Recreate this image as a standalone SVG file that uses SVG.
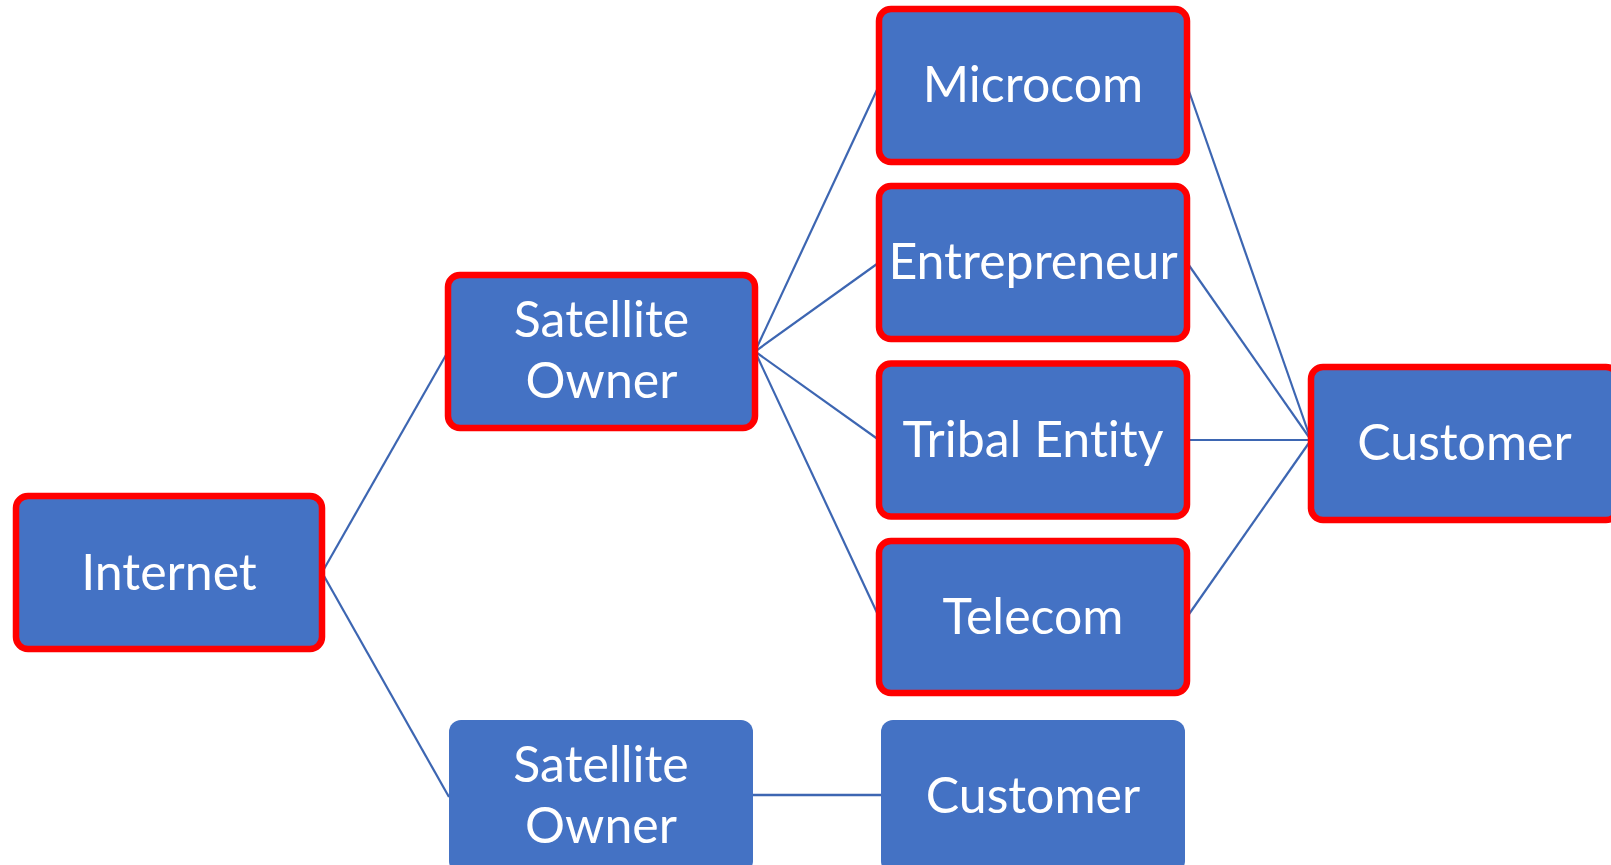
<svg xmlns="http://www.w3.org/2000/svg" width="1611" height="865" viewBox="0 0 1611 865">
  <style>
    .box { fill: #4472C4; }
    .hl { stroke: #FF0000; stroke-width: 6.5; }
    .label { fill: #FFFFFF; font-family: Lato, "Liberation Sans", sans-serif; font-size: 50px; text-anchor: middle; font-variant-ligatures: none; }
    .link { stroke: #3D66B2; stroke-width: 2.2; fill: none; }
  </style>
  <rect width="1611" height="865" fill="#FFFFFF"/>

  <!-- connectors (drawn beneath the boxes) -->
  <g id="connectors">
    <line class="link" x1="322" y1="572.5" x2="448" y2="351.5"/>
    <line class="link" x1="322" y1="572.5" x2="449" y2="797"/>
    <line class="link" x1="755" y1="351.5" x2="879" y2="85.5"/>
    <line class="link" x1="755" y1="351.5" x2="879" y2="262.5"/>
    <line class="link" x1="755" y1="351.5" x2="879" y2="440"/>
    <line class="link" x1="755" y1="351.5" x2="879" y2="617"/>
    <line class="link" x1="1187" y1="85.5" x2="1311" y2="440"/>
    <line class="link" x1="1187" y1="262.5" x2="1311" y2="440"/>
    <line class="link" x1="1187" y1="440" x2="1311" y2="440"/>
    <line class="link" x1="1187" y1="617" x2="1311" y2="440"/>
    <line class="link" x1="753" y1="795" x2="881" y2="795" style="stroke-width:2.6"/>
  </g>

  <g id="internet">
    <rect class="box hl" x="16" y="496" width="306" height="153" rx="12"/>
    <text class="label" x="169" y="590">Internet</text>
  </g>

  <g id="satellite-owner-1">
    <rect class="box hl" x="448" y="275" width="307" height="153" rx="12"/>
    <text class="label" x="601.5" y="337">Satellite</text>
    <text class="label" x="601.5" y="397.5">Owner</text>
  </g>

  <g id="microcom">
    <rect class="box hl" x="879" y="9" width="308" height="153" rx="12"/>
    <text class="label" x="1033" y="102">Microcom</text>
  </g>

  <g id="entrepreneur">
    <rect class="box hl" x="879" y="186" width="308" height="153" rx="12"/>
    <text class="label" x="1033" y="279">Entrepreneur</text>
  </g>

  <g id="tribal-entity">
    <rect class="box hl" x="879" y="363.5" width="308" height="153" rx="12"/>
    <text class="label" x="1033" y="457">Tribal Entity</text>
  </g>

  <g id="telecom">
    <rect class="box hl" x="879" y="541" width="308" height="152" rx="12"/>
    <text class="label" x="1033" y="634">Telecom</text>
  </g>

  <g id="customer-1">
    <rect class="box hl" x="1311" y="367" width="307" height="153" rx="12"/>
    <text class="label" x="1464.5" y="460">Customer</text>
  </g>

  <g id="satellite-owner-2">
    <rect class="box" x="449" y="720" width="304" height="153" rx="12"/>
    <text class="label" x="601" y="782">Satellite</text>
    <text class="label" x="601" y="842.5">Owner</text>
  </g>

  <g id="customer-2">
    <rect class="box" x="881" y="720" width="304" height="153" rx="12"/>
    <text class="label" x="1033" y="813">Customer</text>
  </g>
</svg>
